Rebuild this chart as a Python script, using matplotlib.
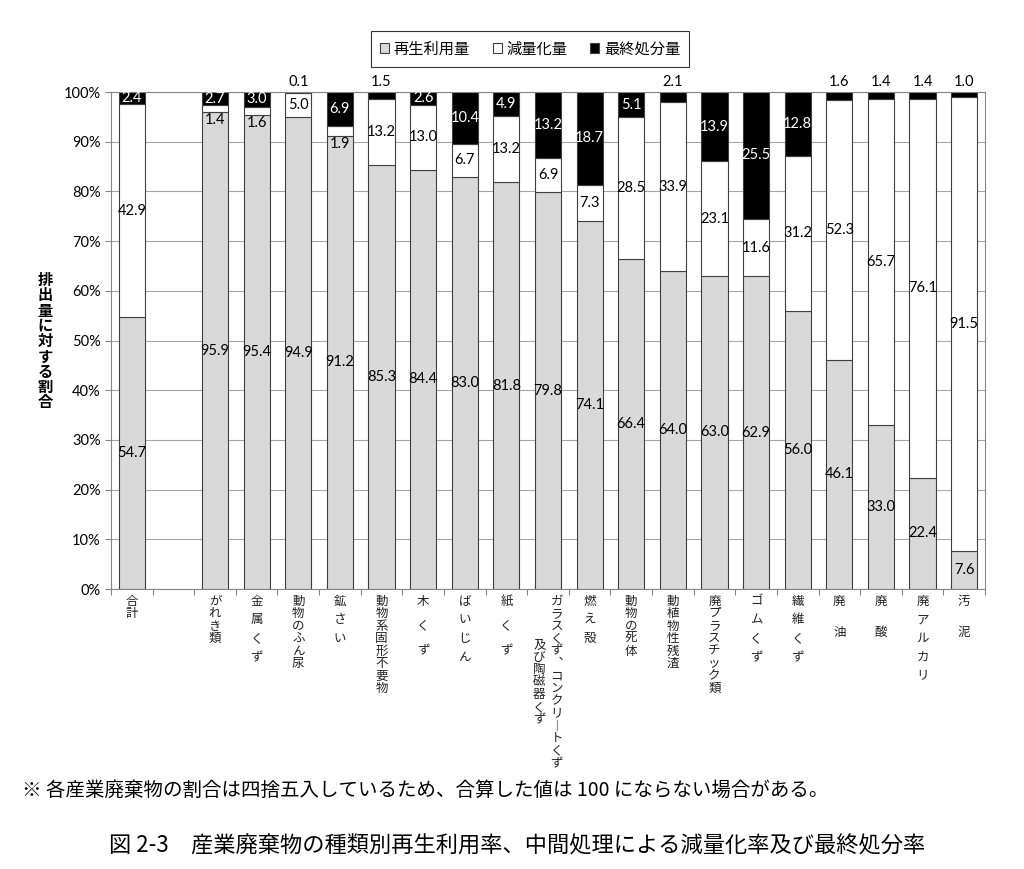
import matplotlib
matplotlib.use('Agg')
import matplotlib.pyplot as plt
import numpy as np
from matplotlib.patches import Patch

plt.rcParams['font.family'] = ['Noto Sans CJK JP', 'DejaVu Sans']

# 品目（縦書きラベル、半角スペース=半字送り、全角スペース=一字送り）
categories = ['合計', 'がれき類', '金 属 く ず', '動物のふん尿', '鉱 さ い',
              '動物系固形不要物', '木　く　ず', 'ば い じ ん', '紙　く　ず',
              'ガラスくず、コンクリートくず\n　　　 及び陶磁器くず',
              '燃 え 殻', '動物の死体', '動植物性残渣', '廃プラスチック類',
              'ゴ ム く ず', '繊 維 く ず', '廃　 油', '廃　 酸',
              '廃 ア ル カ リ', '汚　 泥']
recycle = [54.7, 95.9, 95.4, 94.9, 91.2, 85.3, 84.4, 83.0, 81.8, 79.8,
           74.1, 66.4, 64.0, 63.0, 62.9, 56.0, 46.1, 33.0, 22.4, 7.6]
reduce_ = [42.9, 1.4, 1.6, 5.0, 1.9, 13.2, 13.0, 6.7, 13.2, 6.9,
           7.3, 28.5, 33.9, 23.1, 11.6, 31.2, 52.3, 65.7, 76.1, 91.5]
final = [2.4, 2.7, 3.0, 0.1, 6.9, 1.5, 2.6, 10.4, 4.9, 13.2,
         18.7, 5.1, 2.1, 13.9, 25.5, 12.8, 1.6, 1.4, 1.4, 1.0]
legend_labels = ['再生利用量', '減量化量', '最終処分量']
yticks = np.arange(0, 101, 10)

# 合計の後ろは1本分空ける
pos = np.array([0] + list(range(2, 21)))
r = np.array(recycle)
g = np.array(reduce_)
f = np.array(final)
tot = r + g + f
rn, gn, fn = r / tot, g / tot, f / tot

fig = plt.figure(figsize=(10.24, 8.69), dpi=100)
ax = fig.add_axes([0.1084, 0.3222, 0.8535, 0.5719])

ec = '#404040'
ax.bar(pos, rn, width=0.63, color='#d9d9d9', edgecolor=ec, lw=0.8, zorder=2)
ax.bar(pos, gn, width=0.63, bottom=rn, color='white', edgecolor=ec, lw=0.8, zorder=2)
ax.bar(pos, fn, width=0.63, bottom=rn + gn, color='black', edgecolor=ec, lw=0.8, zorder=2)

ax.set_xlim(-0.5, 20.5)
ax.set_ylim(0, 1)
ax.set_yticks(yticks / 100)
ax.set_yticklabels(['%d%%' % v for v in yticks], family=['Lato', 'DejaVu Sans'], fontsize=10.5)
ax.set_xticks(np.arange(-0.5, 21, 1))
ax.set_xticklabels([])
ax.tick_params(axis='both', direction='out', length=4, color='#868686', width=0.8)
ax.yaxis.grid(True, color='#a6a6a6', lw=0.8)
ax.set_axisbelow(True)
for s in ax.spines.values():
    s.set_color('#868686')
    s.set_linewidth(0.8)

num_font = dict(family=['Lato', 'DejaVu Sans'], fontsize=10.5)
for i, x in enumerate(pos):
    ax.text(x, rn[i] / 2, '%.1f' % r[i], ha='center', va='center', zorder=3, **num_font)
    if g[i] < 2.5:
        ax.text(x, rn[i] - 0.002, '%.1f' % g[i], ha='center', va='top', zorder=3, **num_font)
    else:
        ax.text(x, rn[i] + gn[i] / 2, '%.1f' % g[i], ha='center', va='center', zorder=3, **num_font)
    if f[i] < 2.2:
        ax.annotate('%.1f' % f[i], (x, 1.0), xytext=(0, 2), textcoords='offset points',
                    ha='center', va='bottom', annotation_clip=False, **num_font)
    else:
        ax.text(x, rn[i] + gn[i] + fn[i] / 2, '%.1f' % f[i], ha='center', va='center',
                color='white', zorder=3, clip_on=False, **num_font)

# 縦書きの項目名
vert = {'、': '︑', 'ー': '︱'}
for x, lab in zip(pos, categories):
    cols = lab.split('\n')
    for j, col in enumerate(cols):
        dx = ((len(cols) - 1) / 2 - j) * 12.5
        yy = -4.0
        for ch in col:
            if ch == ' ':
                yy -= 4.5
                continue
            if ch != '　':
                ax.annotate(vert.get(ch, ch), (x, 0), xycoords=('data', 'axes fraction'),
                            xytext=(dx, yy), textcoords='offset points',
                            ha='center', va='top', fontsize=9, color='#222222',
                            annotation_clip=False)
            yy -= 9.0

# 縦書きの軸タイトル
ylab = '排出量に対する割合'
for k, ch in enumerate(ylab):
    fig.text(45 / 1024, 1 - (280 + k * 15.3) / 869, ch, ha='center', va='center',
             fontsize=11, fontweight='bold')

handles = [Patch(facecolor=c, edgecolor=ec, lw=0.8) for c in ['#d9d9d9', 'white', 'black']]
leg = fig.legend(handles, legend_labels, loc='center', bbox_to_anchor=(0.5176, 0.9436),
                 ncol=3, fontsize=11, fancybox=False, edgecolor='black',
                 handlelength=0.6, handleheight=0.6, handletextpad=0.3,
                 columnspacing=1.5, borderpad=0.6)
leg.get_frame().set_linewidth(0.8)

fig.text(22 / 1024, 1 - 790 / 869,
         '※ 各産業廃棄物の割合は四捨五入しているため、合算した値は 100 にならない場合がある。',
         ha='left', va='center', fontsize=14)
fig.text(517 / 1024, 1 - 846 / 869,
         '図 2-3　産業廃棄物の種類別再生利用率、中間処理による減量化率及び最終処分率',
         ha='center', va='center', fontsize=16)

fig.savefig('out.png', dpi=100)
